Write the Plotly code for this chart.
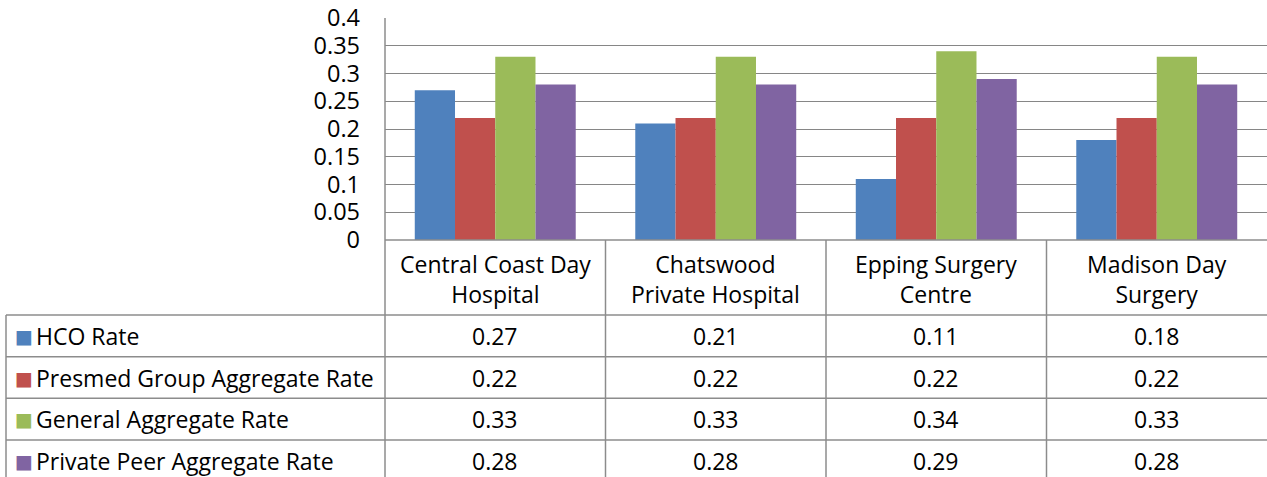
import plotly.graph_objects as go

categories = ["Central Coast Day Hospital", "Chatswood Private Hospital",
              "Epping Surgery Centre", "Madison Day Surgery"]
header_labels = ["Central Coast Day<br>Hospital", "Chatswood<br>Private Hospital",
                 "Epping Surgery<br>Centre", "Madison Day<br>Surgery"]
series_names = ["HCO Rate", "Presmed Group Aggregate Rate",
                "General Aggregate Rate", "Private Peer Aggregate Rate"]
hco_rate = [0.27, 0.21, 0.11, 0.18]
presmed_rate = [0.22, 0.22, 0.22, 0.22]
general_rate = [0.33, 0.33, 0.34, 0.33]
private_peer_rate = [0.28, 0.28, 0.29, 0.28]
y_ticks = [0, 0.05, 0.1, 0.15, 0.2, 0.25, 0.3, 0.35, 0.4]
y_tick_labels = ["0", "0.05", "0.1", "0.15", "0.2", "0.25", "0.3", "0.35", "0.4"]

series_values = [hco_rate, presmed_rate, general_rate, private_peer_rate]
colors = ["#4F81BD", "#C0504D", "#9BBB59", "#8064A2"]

W, H = 1267, 477
FONT = "Open Sans"
FS = 23
FS_TICK = 23.5
GRID = "#868686"
LINE = "#8c8c8c"

def py(p):
    return 1 - p / H

def px(p):
    return p / W

fig = go.Figure()
for name, vals, c in zip(series_names, series_values, colors):
    fig.add_trace(go.Bar(x=categories, y=vals, name=name, marker_color=c,
                         marker_line_width=0, showlegend=False, hoverinfo="skip"))

plot_left = 385
fig.update_layout(
    template="none",
    width=W, height=H,
    margin=dict(l=0, r=0, t=0, b=0, pad=0, autoexpand=False),
    paper_bgcolor="white", plot_bgcolor="white",
    barmode="group", bargap=0.27, bargroupgap=0,
    font=dict(family=FONT, size=FS, color="black"),
    xaxis=dict(domain=[px(plot_left), 1], range=[-0.5, 3.5], showticklabels=False,
               showgrid=False, zeroline=False, showline=False, ticks="", automargin=False),
    yaxis=dict(domain=[py(240), py(18)], range=[0, 0.4], tickvals=y_ticks,
               ticktext=y_tick_labels, showgrid=True, gridcolor=GRID, gridwidth=1.3,
               zeroline=False, showline=False, ticks="", ticklabelstandoff=24,
               automargin=False, tickfont=dict(family=FONT, size=FS_TICK, color="black")),
)

shapes = []
shapes.append(dict(type="line", xref="paper", yref="paper", x0=px(plot_left), x1=px(plot_left),
                   y0=py(18), y1=0, line=dict(color=LINE, width=1.5)))
shapes.append(dict(type="line", xref="paper", yref="paper", x0=px(plot_left), x1=1,
                   y0=py(240), y1=py(240), line=dict(color=LINE, width=1.5)))
for i in range(len(categories) - 1):
    shapes.append(dict(type="line", xref="x", yref="paper", x0=i + 0.5, x1=i + 0.5,
                       y0=py(240), y1=0, line=dict(color=LINE, width=1.5)))
row_lines = [315, 356.7, 398.3, 440]
for r in row_lines:
    shapes.append(dict(type="line", xref="paper", yref="paper", x0=px(6), x1=1,
                       y0=py(r), y1=py(r), line=dict(color=LINE, width=1.5)))
shapes.append(dict(type="line", xref="paper", yref="paper", x0=px(6), x1=px(6),
                   y0=py(315), y1=0, line=dict(color=LINE, width=1.5)))
fig.update_layout(shapes=shapes)

ann = []
for i, lab in enumerate(header_labels):
    ann.append(dict(x=i, y=py(279), xref="x", yref="paper", text=lab, showarrow=False,
                    font=dict(family=FONT, size=FS), align="center", yanchor="middle"))
row_centers = [336, 377.5, 419, 460.5]
for name, vals, c, rc in zip(series_names, series_values, colors, row_centers):
    ann.append(dict(x=px(13), y=py(rc), xref="paper", yref="paper", text="■",
                    showarrow=False, xanchor="left", yanchor="middle",
                    font=dict(family="DejaVu Sans", size=19, color=c)))
    ann.append(dict(x=px(34), y=py(rc), xref="paper", yref="paper", text=name,
                    showarrow=False, xanchor="left", yanchor="middle",
                    font=dict(family=FONT, size=FS)))
    for i, v in enumerate(vals):
        ann.append(dict(x=i, y=py(rc), xref="x", yref="paper", text=f"{v:.2f}",
                        showarrow=False, xanchor="center", yanchor="middle",
                        font=dict(family=FONT, size=FS)))
fig.update_layout(annotations=ann)

fig.write_html("out.html", config={"displayModeBar": False},
               post_script="document.body.style.margin='0';document.body.style.overflow='hidden';")
